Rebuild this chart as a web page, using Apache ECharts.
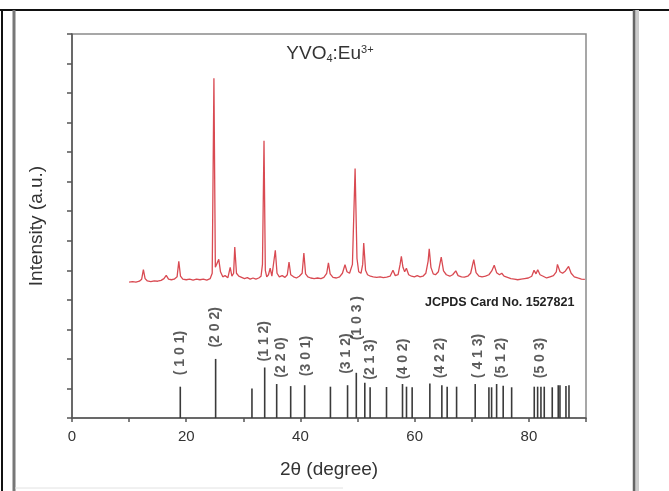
<!DOCTYPE html>
<html>
<head>
<meta charset="utf-8">
<script src="https://cdn.jsdelivr.net/npm/echarts@6/dist/echarts.min.js"></script>
<style>
  html, body { margin: 0; padding: 0; background: #fff; }
  #main { width: 669px; height: 491px; }
</style>
</head>
<body>
<div id="main"></div>
<script>
// measured XRD pattern of the sample (2theta in degrees, arbitrary intensity)
var xrdAngle = [10.0, 10.6, 11.2, 11.8, 12.2, 12.5, 12.8, 13.2, 13.8, 14.4, 15.0, 15.6, 16.1, 16.5, 16.9, 17.4, 17.9, 18.4, 18.7, 19.0,
  19.4, 20.0, 20.6, 21.2, 21.8, 22.4, 23.0, 23.6, 24.2, 24.55, 24.85, 25.1, 25.4, 25.7, 26.0, 26.4, 26.8, 27.3, 27.7, 28.0,
  28.3, 28.5, 28.8, 29.2, 29.7, 30.2, 30.7, 31.2, 31.7, 32.2, 32.7, 33.1, 33.35, 33.62, 33.85, 34.1, 34.4, 34.7, 35.0, 35.3,
  35.6, 35.9, 36.3, 36.8, 37.3, 37.7, 38.0, 38.3, 38.8, 39.3, 39.8, 40.3, 40.6, 40.9, 41.3, 41.8, 42.4, 43.0, 43.6, 44.1,
  44.6, 44.9, 45.2, 45.7, 46.3, 46.85, 47.35, 47.8, 48.15, 48.6, 49.1, 49.57, 49.9, 50.2, 50.6, 50.9, 51.08, 51.4, 51.75, 52.25,
  52.75, 53.35, 53.95, 54.5, 55.1, 55.7, 56.2, 56.6, 57.1, 57.45, 57.67, 57.95, 58.25, 58.55, 58.95, 59.45, 59.95, 60.45, 60.95, 61.45,
  61.95, 62.35, 62.55, 62.85, 63.25, 63.65, 64.15, 64.65, 65.05, 65.55, 66.15, 66.65, 67.2, 67.6, 68.2, 68.7, 69.3, 69.8, 70.35, 70.75,
  71.25, 71.8, 72.4, 73.0, 73.5, 73.93, 74.35, 74.85, 75.25, 75.65, 76.25, 76.85, 77.45, 78.05, 78.65, 79.25, 79.9, 80.5, 80.9, 81.25,
  81.55, 81.95, 82.5, 83.1, 83.7, 84.3, 84.8, 85.0, 85.45, 85.9, 86.4, 86.95, 87.4, 87.95, 88.55, 89.2, 89.8];
var xrdIntensity = [4.60, 4.62, 4.60, 4.63, 4.70, 5.02, 4.72, 4.64, 4.62, 4.64, 4.63, 4.66, 4.72, 4.83, 4.70, 4.68, 4.70, 4.78, 5.30, 4.80,
  4.70, 4.68, 4.70, 4.67, 4.70, 4.68, 4.70, 4.67, 4.72, 4.90, 11.5, 5.10, 5.10, 5.37, 4.95, 4.78, 4.82, 4.75, 5.10, 4.80,
  4.90, 5.79, 4.90, 4.80, 4.76, 4.72, 4.75, 4.70, 4.74, 4.70, 4.74, 4.80, 5.20, 9.39, 5.00, 4.78, 4.85, 5.07, 4.80, 4.85,
  5.68, 4.90, 4.78, 4.82, 4.76, 4.85, 5.28, 4.85, 4.78, 4.74, 4.80, 4.90, 5.58, 4.88, 4.78, 4.74, 4.72, 4.74, 4.72, 4.76,
  4.90, 5.25, 4.88, 4.76, 4.74, 4.78, 4.90, 5.19, 4.95, 4.90, 5.20, 8.45, 5.40, 4.95, 4.90, 5.20, 5.92, 5.00, 4.85, 4.80,
  4.78, 4.76, 4.78, 4.75, 4.77, 4.80, 5.00, 4.82, 4.85, 5.20, 5.47, 5.10, 4.95, 5.07, 4.85, 4.80, 4.78, 4.82, 4.78, 4.80,
  4.90, 5.30, 5.73, 5.10, 4.88, 4.85, 4.95, 5.45, 4.98, 4.85, 4.80, 4.85, 4.98, 4.82, 4.78, 4.77, 4.80, 4.90, 5.36, 4.92,
  4.80, 4.78, 4.80, 4.85, 4.98, 5.17, 4.92, 4.85, 4.90, 4.80, 4.76, 4.72, 4.70, 4.68, 4.70, 4.72, 4.74, 4.80, 5.00, 4.88,
  5.02, 4.85, 4.80, 4.74, 4.78, 4.82, 4.95, 5.20, 4.95, 4.90, 4.98, 5.13, 4.90, 4.78, 4.74, 4.70, 4.69];

// reference card lines
var stickAngle = [18.96, 25.15, 31.51, 33.74, 35.84, 38.29, 40.74, 45.25, 48.25, 49.78, 51.27, 52.2, 55.07, 57.87, 58.57, 59.56,
  62.66, 64.76, 65.69, 67.34, 70.6, 73.0, 73.47, 74.35, 75.5, 76.98, 80.94, 81.53, 82.11, 82.69, 84.09, 85.14, 85.44, 86.49, 87.02];
var stickIntensity = [1.06, 2.0, 1.0, 1.71, 1.15, 1.08, 1.11, 1.06, 1.11, 1.53, 1.19, 1.04, 1.05, 1.15, 1.06, 1.04,
  1.17, 1.11, 1.06, 1.06, 1.15, 1.04, 1.04, 1.15, 1.09, 1.04, 1.06, 1.06, 1.06, 1.06, 1.04, 1.11, 1.11, 1.08, 1.11];

// hkl labels
var hklLabel = ['( 1 0 1)', '(2 0 2)', '(1 1 2)', '(2 2 0)', '(3 0 1)', '(3 1 2)', '(1 0 3 )', '(2 1 3)', '(4 0 2)', '(4 2 2)', '( 4 1 3)', '(5 1 2)', '(5 0 3)'];
var hklAngle = [19.0, 25.06, 33.7, 36.54, 41.0, 48.0, 49.95, 52.14, 58.01, 64.4, 71.16, 75.1, 81.94];
var hklLevel = [2.2, 3.07, 2.6, 2.05, 2.1, 2.18, 3.38, 1.98, 2.0, 2.03, 2.1, 2.03, 2.03];

var xTicks = ['0', '20', '40', '60', '80'];

var myChart = echarts.init(document.getElementById('main'));

var option = {
  animation: false,
  grid: {
    left: 72, right: 83, top: 34, bottom: 73,
    show: true, borderColor: '#8a8a8a', borderWidth: 1.5
  },
  xAxis: {
    type: 'value',
    min: 0, max: 90, interval: 10,
    name: '2θ (degree)',
    nameLocation: 'middle',
    nameGap: 42,
    nameTextStyle: { fontSize: 19, color: '#333', fontFamily: 'Liberation Sans' },
    axisLine: { lineStyle: { color: '#555', width: 1.5 } },
    axisTick: { length: 4, lineStyle: { color: '#555', width: 1.5 } },
    axisLabel: {
      fontSize: 15, color: '#333', margin: 11, fontFamily: 'Liberation Sans',
      formatter: function (v) { return xTicks.indexOf(String(v)) >= 0 ? String(v) : ''; }
    },
    splitLine: { show: false }
  },
  yAxis: {
    type: 'value',
    min: 0, max: 13, interval: 1,
    name: 'Intensity (a.u.)',
    nameLocation: 'middle',
    nameGap: 26,
    nameTextStyle: { fontSize: 19, color: '#333', fontFamily: 'Liberation Sans' },
    axisLine: { show: true, lineStyle: { color: '#555', width: 1.5 } },
    axisTick: { show: true, length: 5, lineStyle: { color: '#555', width: 1.5 } },
    axisLabel: { show: false },
    splitLine: { show: false }
  },
  series: [
    {
      type: 'bar',
      barWidth: 1.6,
      itemStyle: { color: '#3a3a3a' },
      data: stickAngle.map(function (a, i) { return [a, stickIntensity[i]]; })
    },
    {
      type: 'line',
      showSymbol: false,
      sampling: 'none',
      lineStyle: { color: '#d94a52', width: 1.3 },
      data: xrdAngle.map(function (a, i) { return [a, xrdIntensity[i]]; }),
      z: 3
    },
    {
      type: 'scatter',
      symbolSize: 1,
      itemStyle: { color: 'rgba(0,0,0,0)' },
      label: {
        show: true,
        formatter: '{b}',
        position: 'inside',
        rotate: 90,
        align: 'center',
        verticalAlign: 'middle',
        fontSize: 14,
        fontWeight: 'bold',
        color: '#333',
        fontFamily: 'Liberation Sans'
      },
      data: hklAngle.map(function (a, i) { return { name: hklLabel[i], value: [a, hklLevel[i]] }; }),
      z: 4
    }
  ],
  graphic: [
    { type: 'line', shape: { x1: 0, y1: 10, x2: 669, y2: 10 }, style: { stroke: '#111', lineWidth: 2 } },
    { type: 'line', shape: { x1: 2, y1: 10, x2: 2, y2: 491 }, style: { stroke: '#111', lineWidth: 2 } },
    { type: 'line', shape: { x1: 14, y1: 10, x2: 14, y2: 491 }, style: { stroke: '#777', lineWidth: 3 } },
    { type: 'line', shape: { x1: 637, y1: 10, x2: 637, y2: 491 }, style: { stroke: '#ccc', lineWidth: 4 } },
    { type: 'line', shape: { x1: 634, y1: 10, x2: 634, y2: 491 }, style: { stroke: '#666', lineWidth: 2.5 } },
    { type: 'line', shape: { x1: 15, y1: 488, x2: 343, y2: 488 }, style: { stroke: '#e2e2e2', lineWidth: 1 } },
    {
      type: 'text', left: 425, top: 296,
      style: { text: 'JCPDS Card No. 1527821', fontSize: 12.5, fontWeight: 'bold', fill: '#222', fontFamily: 'Liberation Sans' }
    },
    {
      type: 'text', x: 330, y: 54,
      style: {
        text: '{a|YVO}{b|4}{a|:Eu}{c|3+}',
        align: 'center', verticalAlign: 'middle',
        rich: {
          a: { fontSize: 19, fill: '#333', fontFamily: 'Liberation Sans' },
          b: { fontSize: 11, fill: '#333', fontFamily: 'Liberation Sans', padding: [10, 0, 0, 0] },
          c: { fontSize: 11, fill: '#333', fontFamily: 'Liberation Sans', padding: [0, 0, 9, 0] }
        }
      }
    }
  ]
};

option && myChart.setOption(option);
</script>
</body>
</html>
